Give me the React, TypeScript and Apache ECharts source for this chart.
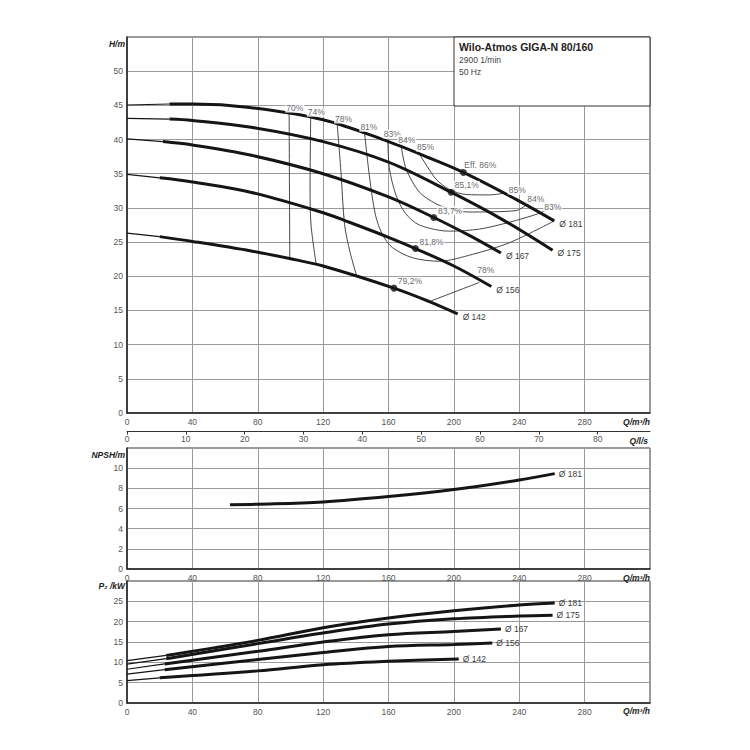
import React, { useEffect, useRef } from "react";
import * as echarts from "echarts";

// ---------- data ----------
const qTicksMax = 320; // m³/h axis end
const lsPerM3h = 1 / 3.6;

const diameters = ["Ø 181", "Ø 175", "Ø 167", "Ø 156", "Ø 142"];

// Head curves H(Q)  [Q m³/h, H m]
const h181 = [[0, 45.05], [26, 45.2], [40, 45.2], [75, 44.7], [120, 42.9], [160, 39.7], [180, 37.8], [205.8, 35.2], [240, 31.0], [261.4, 28.1]];
const h175 = [[0, 43.1], [26, 43.0], [40, 42.8], [76, 41.8], [120, 39.7], [160, 36.7], [198.3, 32.3], [230, 28.25], [260.4, 23.8]];
const h167 = [[0, 40.1], [22, 39.7], [40, 39.2], [76, 37.7], [120, 35.0], [160, 31.6], [187.7, 28.6], [210, 25.9], [228.8, 23.4]];
const h156 = [[0, 34.9], [20, 34.4], [40, 33.8], [75.5, 32.3], [120, 29.3], [136, 27.9], [160, 25.7], [176.5, 24.05], [200, 21.5], [222.9, 18.5]];
const h142 = [[0, 26.3], [20, 25.8], [40, 25.1], [76, 23.7], [99.5, 22.6], [120, 21.5], [163.3, 18.27], [185, 16.3], [202.3, 14.5]];
const hCurves = [h181, h175, h167, h156, h142];
const hThinUntil = [26, 26, 22, 20, 20];

// Best efficiency points
const bepPoints = [[205.8, 35.2], [198.3, 32.3], [187.7, 28.6], [176.5, 24.05], [163.3, 18.27]];
const bepTexts = ["Eff. 86%", "85,1%", "83,7%", "81,8%", "79,2%"];
const bepTextAt = [[216.2, 36.3], [207.9, 33.3], [197.7, 29.6], [186.3, 25.0], [173.1, 19.25]];

// Iso-efficiency lines
const eff70 = [[99.2, 43.8], [99.6, 22.6]];
const eff74 = [[112.4, 43.3], [112.0, 33], [112.6, 27.5], [115.8, 21.7]];
const eff78a = [[128.6, 42.3], [131, 35], [133.1, 27.6], [136.5, 23.5], [140.6, 20.0]];
const eff78b = [[185, 16.3], [215.6, 19.1]];
const eff81 = [[145.3, 41.1], [148.4, 34.5], [152, 29], [156.3, 26.1], [162.4, 24.2], [174.8, 22.7], [191.1, 22.2], [211.3, 23.2], [233.9, 24.9], [261.4, 28.1]];
const eff83 = [[159.6, 39.8], [160.6, 35.7], [164.7, 31.8], [170.4, 29.2], [178.9, 27.5], [197.3, 26.6], [215.6, 26.9], [233.9, 27.9], [252.2, 29.2], [257.1, 29.8]];
const eff84 = [[167.8, 39.0], [170.8, 35.7], [178.9, 32.3], [189.1, 30.6], [197.3, 29.9], [208.4, 29.4], [238, 29.6], [245.1, 30.6]];
const eff85 = [[178.9, 37.9], [182, 36.7], [189.1, 34.2], [197.3, 32.7], [207.5, 31.96], [221.7, 31.9], [231.9, 32.2]];
const effLines = [eff70, eff74, eff78a, eff78b, eff81, eff83, eff84, eff85];

const effTexts = ["70%", "74%", "78%", "81%", "83%", "84%", "85%", "85%", "84%", "83%", "78%"];
const effTextAt = [[102.6, 44.6], [115.8, 44.0], [132.5, 43.0], [148, 41.8], [162.3, 40.8], [171.2, 40.0], [182.6, 38.9], [238.8, 32.6], [250.1, 31.3], [260.5, 30.1], [219.5, 20.9]];

// NPSH
const npsh181 = [[63, 6.37], [80, 6.42], [120, 6.65], [160, 7.18], [200, 7.88], [240, 8.83], [261.7, 9.46]];

// Power P2
const p181 = [[0, 10.4], [24, 11.7], [80, 15.4], [120, 18.5], [160, 20.9], [200, 22.7], [240, 24.1], [261.7, 24.6]];
const p175 = [[0, 9.55], [24, 10.9], [80, 14.6], [120, 17.2], [160, 19.4], [200, 20.7], [240, 21.4], [260.4, 21.6]];
const p167 = [[0, 8.3], [23, 9.6], [80, 12.7], [120, 15.0], [160, 16.8], [200, 17.6], [228.8, 18.2]];
const p156 = [[0, 7.1], [23, 8.2], [80, 10.7], [120, 12.4], [160, 13.9], [200, 14.4], [223.5, 14.75]];
const p142 = [[0, 5.5], [20, 6.2], [80, 7.9], [120, 9.4], [160, 10.25], [203, 10.85]];
const pCurves = [p181, p175, p167, p156, p142];
const pThinUntil = [24, 24, 23, 23, 20];

// ---------- styling ----------
const FONT = "'Liberation Sans', Arial, sans-serif";
const INK = "#151515";
const LABEL = "#3c3c3c";
const GRIDLINE = "#9a9a9a";

function qAxis(gridIndex: number) {
  return {
    type: "value",
    gridIndex,
    min: 0,
    max: qTicksMax,
    interval: 40,
    axisLine: { show: true, onZero: false, lineStyle: { color: "#222", width: 1.5 } },
    axisTick: { show: false },
    axisLabel: { showMaxLabel: false, margin: 4, color: "#555", fontSize: 8.5, fontFamily: FONT },
    splitLine: { show: true, lineStyle: { color: GRIDLINE, width: 1 } },
  };
}

function vAxis(gridIndex: number, max: number, interval: number) {
  return {
    type: "value",
    gridIndex,
    min: 0,
    max,
    interval,
    axisLine: { show: true, onZero: false, lineStyle: { color: "#222", width: 1.5 } },
    axisTick: { show: false },
    axisLabel: { showMaxLabel: false, margin: 4, color: "#555", fontSize: 8.5, fontFamily: FONT },
    splitLine: { show: true, lineStyle: { color: GRIDLINE, width: 1 } },
  };
}

function curveSeries(data: number[][], thinUntil: number, xi: number, yi: number, label: string, dist: number, offY: number) {
  const thin = data.filter((p) => p[0] <= thinUntil);
  const thick = data.filter((p) => p[0] >= thinUntil);
  return [
    {
      type: "line", xAxisIndex: xi, yAxisIndex: yi, data: thin, smooth: 0.3, symbol: "none", silent: true, z: 3,
      color: INK, lineStyle: { color: INK, width: 1.2 },
    },
    {
      type: "line", xAxisIndex: xi, yAxisIndex: yi, data: thick, smooth: 0.35, symbol: "none", silent: true, z: 3,
      color: INK, lineStyle: { color: INK, width: 3 },
      endLabel: {
        show: true, formatter: label, distance: dist, offset: [0, offY], color: LABEL, fontSize: 8.5, fontFamily: FONT,
      },
    },
  ];
}

function textScatter(texts: string[], at: number[][]) {
  return {
    type: "scatter", xAxisIndex: 0, yAxisIndex: 0, symbolSize: 1, silent: true, z: 8,
    color: LABEL,
    itemStyle: { color: LABEL },
    data: texts.map((t, i) => ({ name: t, value: at[i] })),
    label: {
      show: true, position: [0.5, 0.5], align: "center", verticalAlign: "middle", formatter: "{b}",
      color: LABEL, fontSize: 8.5, fontFamily: FONT, backgroundColor: "#fff", padding: [0, 1],
    },
  };
}

function buildOption() {
  const series: any[] = [];
  hCurves.forEach((c, i) => series.push(...curveSeries(c, hThinUntil[i], 0, 0, diameters[i], 5, 3)));
  effLines.forEach((c) =>
    series.push({
      type: "line", xAxisIndex: 0, yAxisIndex: 0, data: c, smooth: 0.3, symbol: "none", silent: true, z: 2,
      color: "#333", lineStyle: { color: "#333", width: 0.9 },
    })
  );
  series.push({
    type: "scatter", xAxisIndex: 0, yAxisIndex: 0, data: bepPoints, symbolSize: 7, silent: true, z: 5,
    color: INK, itemStyle: { color: INK },
  });
  series.push(textScatter(effTexts, effTextAt));
  series.push(textScatter(bepTexts, bepTextAt));
  series.push({
    type: "line", xAxisIndex: 2, yAxisIndex: 1, data: npsh181, smooth: 0.35, symbol: "none", silent: true, z: 3,
    color: INK, lineStyle: { color: INK, width: 3 },
    endLabel: { show: true, formatter: diameters[0], distance: 4, color: LABEL, fontSize: 8.5, fontFamily: FONT },
  });
  pCurves.forEach((c, i) => series.push(...curveSeries(c, pThinUntil[i], 3, 2, diameters[i], 4, 0)));

  const axisName = (text: string, x: number, y: number, align = "right") => ({
    type: "text", x, y, z: 10, silent: true,
    style: { text, font: `italic bold 8.5px ${FONT}`, fill: "#222", align, verticalAlign: "middle" },
  });

  return {
    animation: false,
    color: [INK],
    textStyle: { fontFamily: FONT },
    grid: [
      { left: 127, top: 37, width: 523, height: 376, show: true, borderColor: "#333", borderWidth: 1 },
      { left: 127, top: 448, width: 523, height: 121, show: true, borderColor: "#333", borderWidth: 1 },
      { left: 127, top: 581, width: 523, height: 122, show: true, borderColor: "#333", borderWidth: 1 },
    ],
    xAxis: [
      qAxis(0),
      {
        type: "value", gridIndex: 0, position: "bottom", offset: 18.5, min: 0, max: qTicksMax * lsPerM3h, interval: 10,
        axisLine: { show: true, onZero: false, lineStyle: { color: "#333", width: 1 } },
        axisTick: { show: true, length: 3, lineStyle: { color: "#333" } },
        axisLabel: { showMaxLabel: false, margin: 3, color: "#555", fontSize: 8.5, fontFamily: FONT },
        splitLine: { show: false },
      },
      qAxis(1),
      qAxis(2),
    ],
    yAxis: [vAxis(0, 55, 5), vAxis(1, 12, 2), vAxis(2, 30, 5)],
    series,
    graphic: [
      {
        type: "rect", z: 6, silent: true,
        shape: { x: 454, y: 37, width: 196, height: 69 },
        style: { fill: "#fff", stroke: "#333", lineWidth: 1 },
      },
      {
        type: "text", x: 459, y: 46.5, z: 10, silent: true,
        style: { text: "Wilo-Atmos GIGA-N 80/160", font: `bold 10.5px ${FONT}`, fill: "#222", verticalAlign: "middle" },
      },
      {
        type: "text", x: 459, y: 59.5, z: 10, silent: true,
        style: { text: "2900 1/min", font: `8.5px ${FONT}`, fill: "#444", verticalAlign: "middle" },
      },
      {
        type: "text", x: 459, y: 71.7, z: 10, silent: true,
        style: { text: "50 Hz", font: `8.5px ${FONT}`, fill: "#444", verticalAlign: "middle" },
      },
      axisName("H/m", 125, 44),
      axisName("NPSH/m", 125, 455),
      axisName("P₂ /kW", 125, 586),
      axisName("Q/m³/h", 650, 421.7),
      axisName("Q/l/s", 648, 440.7),
      axisName("Q/m³/h", 650, 577.5),
      axisName("Q/m³/h", 650, 710.5),
    ],
  };
}

export default function App() {
  const ref = useRef<HTMLDivElement>(null);
  useEffect(() => {
    document.body.style.margin = "0";
    const chart = echarts.init(ref.current!, null, { renderer: "svg" });
    chart.setOption(buildOption() as any);
    return () => chart.dispose();
  }, []);
  return <div ref={ref} style={{ width: 750, height: 750 }} />;
}
